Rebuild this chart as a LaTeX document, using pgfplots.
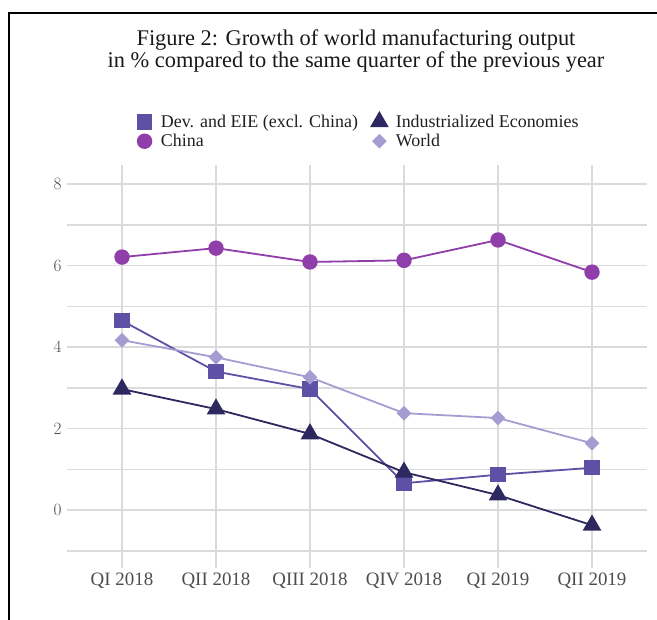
\documentclass[border=0pt]{standalone}
\usepackage{pgfplots}
\pgfplotsset{compat=1.18}
\usepackage{fontspec}
\setmainfont{Liberation Serif}
\definecolor{cDev}{RGB}{94,80,165}
\definecolor{cChina}{RGB}{143,62,170}
\definecolor{cInd}{RGB}{46,40,96}
\definecolor{cWorld}{RGB}{167,156,210}
\definecolor{cTick}{RGB}{80,76,76}
\begin{document}
\begin{tikzpicture}
\path[use as bounding box] (0bp,0bp) rectangle (657bp,620bp);
\draw[line width=1.6bp] (9bp,-10bp) -- (9bp,607bp) -- (680bp,607bp);
\node[font=\fontsize{22.5}{23}\selectfont, align=center, text=black!90] at (356bp,569bp)
  {Figure 2: Growth of world manufacturing output\\in \% compared to the same quarter of the previous year};
\begin{axis}[
  at={(67bp,52bp)}, anchor=south west,
  scale only axis, width=580bp, height=403bp,
  xmin=-0.585, xmax=5.585, ymin=-1.42, ymax=8.47,
  axis line style={draw=none},
  major tick length=0pt, minor tick length=0pt,
  xtick={0,1,2,3,4,5},
  xticklabels={QI 2018,QII 2018,QIII 2018,QIV 2018,QI 2019,QII 2019},
  ytick={0,2,4,6,8},
  minor ytick={-1,1,3,5,7},
  xmajorgrids, ymajorgrids, yminorgrids,
  grid style={draw=black!14, line width=1.6bp},
  minor grid style={draw=black!14, line width=1.6bp},
  tick label style={font=\fontsize{19}{21}\selectfont, text=cTick},
  yticklabel style={xshift=-2bp},
  xticklabel style={yshift=-1bp},
  legend columns=2,
  legend style={at={(0.1198,1.13)}, anchor=north west, draw=none, fill=none,
    font=\fontsize{18}{19}\selectfont, text=black!88, row sep=2.5bp, inner sep=0pt,
    nodes={inner sep=1.5bp},
    /tikz/every odd column/.append style={column sep=7bp},
    /tikz/every even column/.append style={column sep=12bp}},
  legend cell align=left,
  legend image code/.code={\path (0bp,0bp) (14bp,0bp); \draw[#1] plot[only marks] coordinates {(7bp,0bp)};},
  every axis plot/.append style={line width=1.8bp},
]
\addplot[color=cDev, mark=square*, mark size=6.8bp] coordinates {(0,4.65) (1,3.4) (2,2.97) (3,0.66) (4,0.87) (5,1.04)};
\addlegendentry{Dev. and EIE (excl. China)}
\addplot[color=cInd, mark=triangle*, mark size=9bp] coordinates {(0,2.97) (1,2.48) (2,1.87) (3,0.93) (4,0.37) (5,-0.37)};
\addlegendentry{Industrialized Economies}
\addplot[color=cChina, mark=*, mark size=6.8bp] coordinates {(0,6.21) (1,6.43) (2,6.09) (3,6.13) (4,6.63) (5,5.84)};
\addlegendentry{China}
\addplot[color=cWorld, mark=square*, mark options={rotate=45}, mark size=4.3bp] coordinates {(0,4.17) (1,3.75) (2,3.26) (3,2.38) (4,2.26) (5,1.64)};
\addlegendentry{World}
\end{axis}
\end{tikzpicture}
\end{document}
